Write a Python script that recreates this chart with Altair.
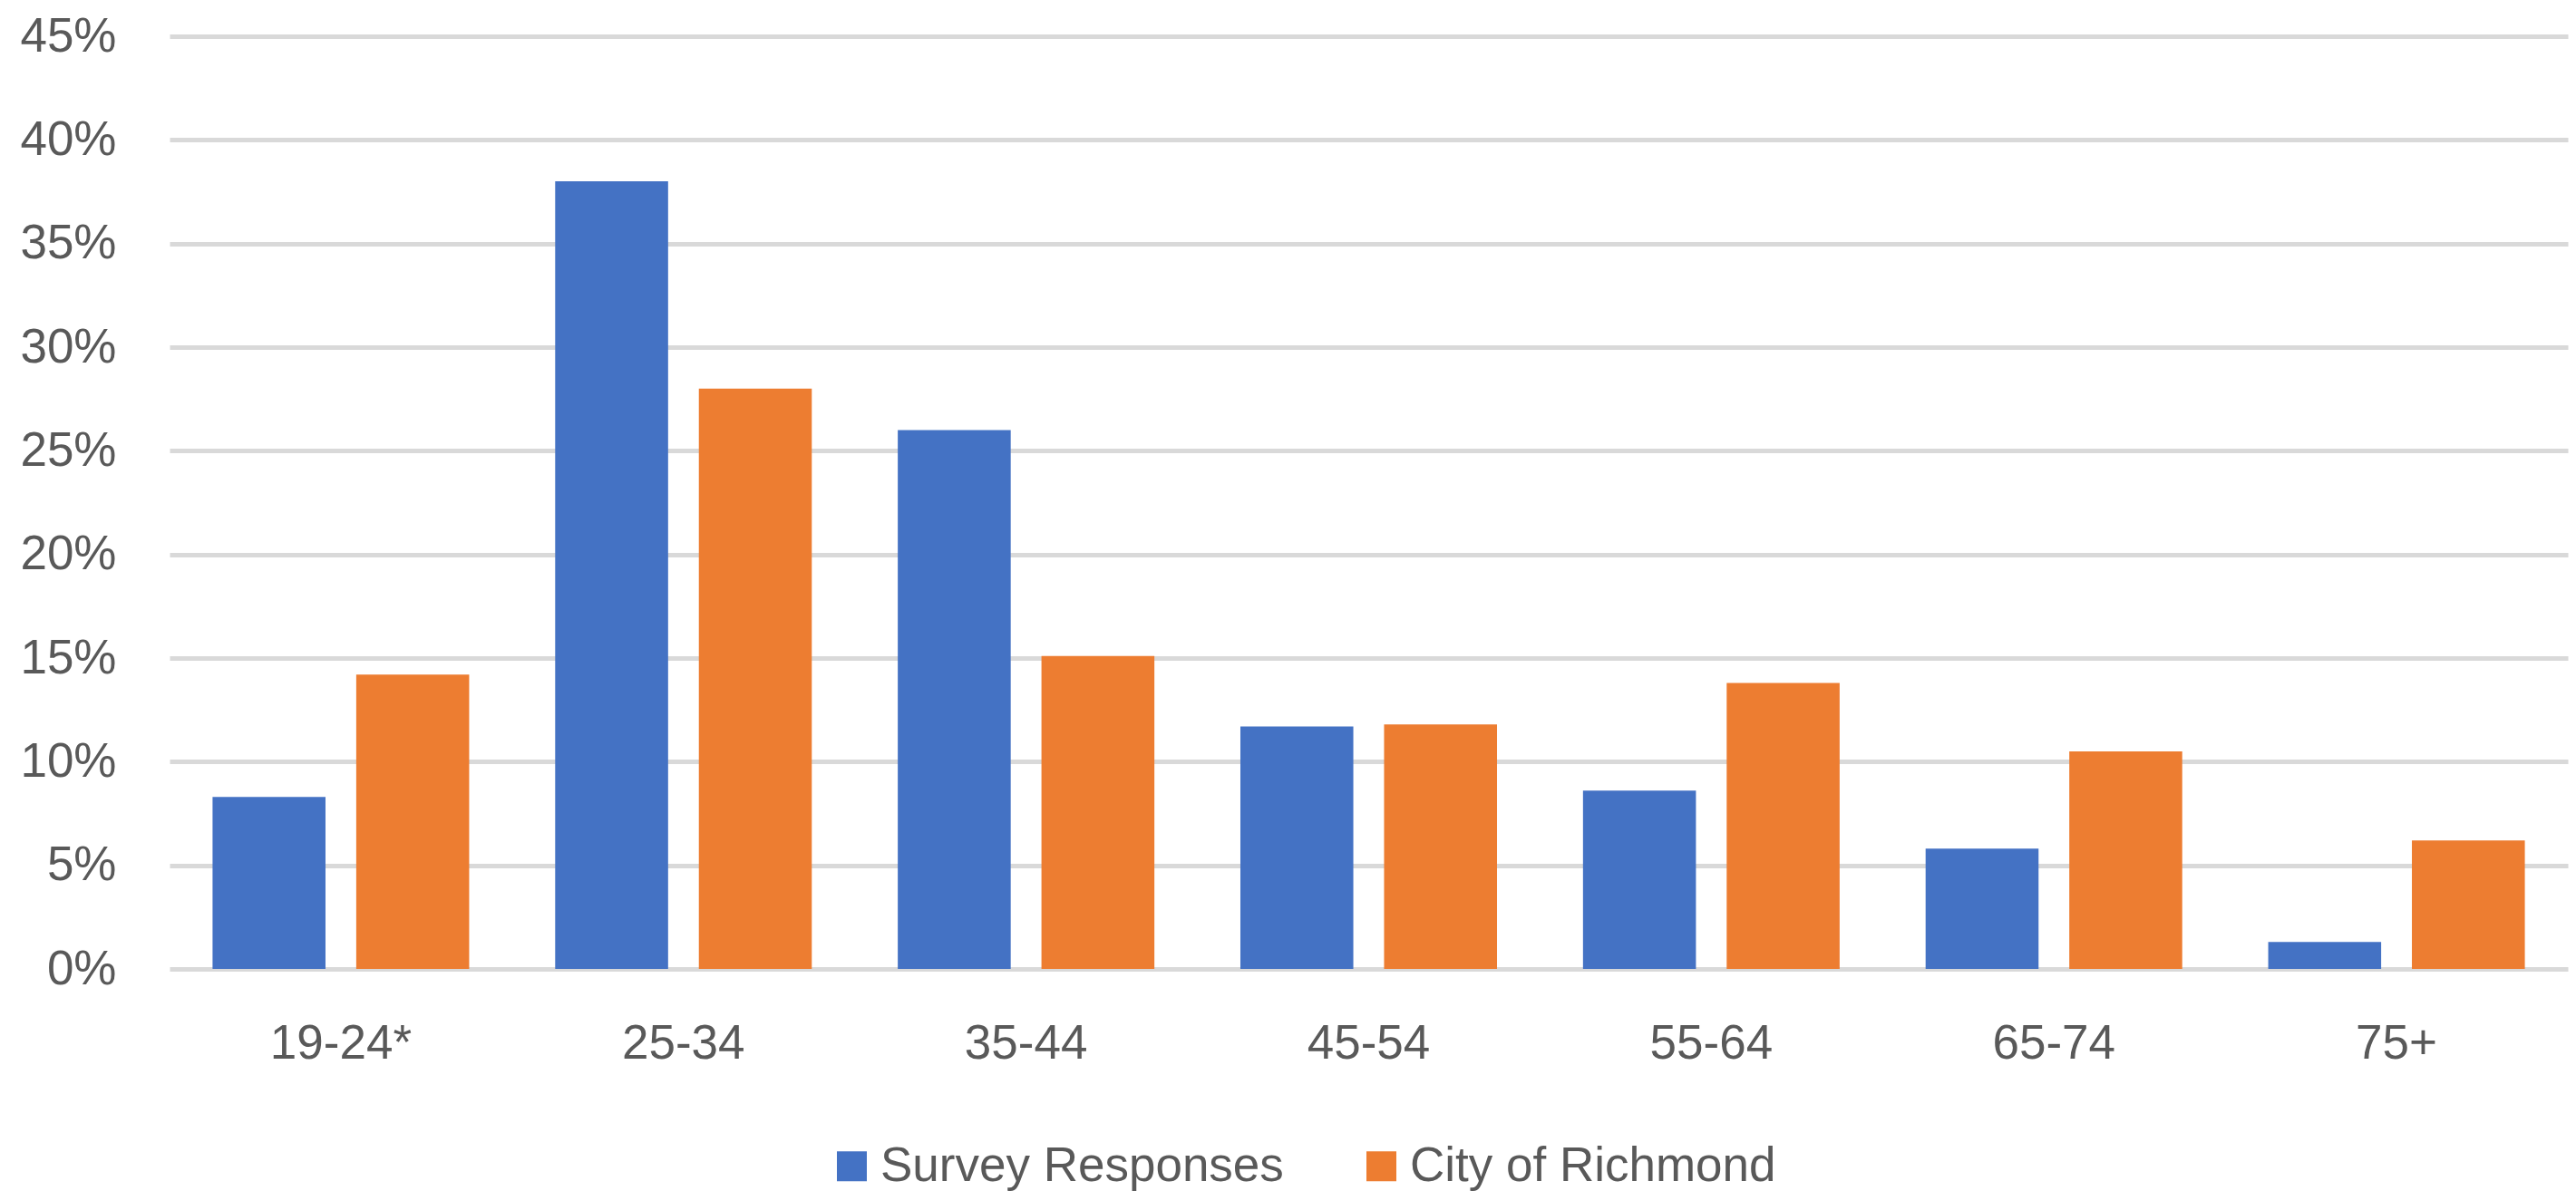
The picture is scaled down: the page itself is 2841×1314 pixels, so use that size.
import altair as alt
import pandas as pd

categories = ["19-24*", "25-34", "35-44", "45-54", "55-64", "65-74", "75+"]
series = ["Survey Responses", "City of Richmond"]
survey = [0.083, 0.380, 0.260, 0.117, 0.086, 0.058, 0.013]
richmond = [0.142, 0.280, 0.151, 0.118, 0.138, 0.105, 0.062]
y_ticks = [0, 0.05, 0.10, 0.15, 0.20, 0.25, 0.30, 0.35, 0.40, 0.45]
colors = ["#4472C4", "#ED7D31"]

rows = []
for c, a, b in zip(categories, survey, richmond):
    rows.append({"age": c, "series": series[0], "value": a})
    rows.append({"age": c, "series": series[1], "value": b})
df = pd.DataFrame(rows)

FONT = "Liberation Sans"
GREY = "#595959"

chart = alt.Chart(df).mark_bar().encode(
    x=alt.X("age:N", sort=categories, title=None,
            scale=alt.Scale(paddingInner=0.251, paddingOuter=0.1255),
            axis=alt.Axis(labelAngle=0, ticks=False, tickSize=0, domain=False,
                          grid=False, labelFont=FONT, labelFontSize=53,
                          labelColor=GREY, labelPadding=56)),
    xOffset=alt.XOffset("series:N", sort=series,
                        scale=alt.Scale(paddingInner=0.214, paddingOuter=0)),
    y=alt.Y("value:Q", title=None,
            scale=alt.Scale(domain=[0, 0.45], nice=False),
            axis=alt.Axis(values=y_ticks, format=".0%", ticks=False, tickSize=0,
                          domain=False, grid=True, gridColor="#D9D9D9",
                          gridWidth=5, labelFont=FONT, labelFontSize=53,
                          labelColor=GREY, labelPadding=59)),
    color=alt.Color("series:N", sort=series,
                    scale=alt.Scale(domain=series, range=colors),
                    legend=alt.Legend(title=None, orient="none", direction="horizontal",
                                      legendX=726, legendY=1220, padding=0,
                                      symbolType="square", symbolSize=1089,
                                      symbolStrokeWidth=0, labelOffset=5,
                                      columnPadding=81, labelFont=FONT,
                                      labelFontSize=53, labelColor=GREY,
                                      labelLimit=1000)),
).properties(
    width=2645,
    height=1029,
    padding={"left": 187, "top": 40, "right": 9, "bottom": 245},
    autosize=alt.AutoSizeParams(type="none"),
    background="white",
).configure_view(stroke=None, strokeWidth=0)

chart.save("out.html", embed_options={"renderer": "svg", "actions": False})
